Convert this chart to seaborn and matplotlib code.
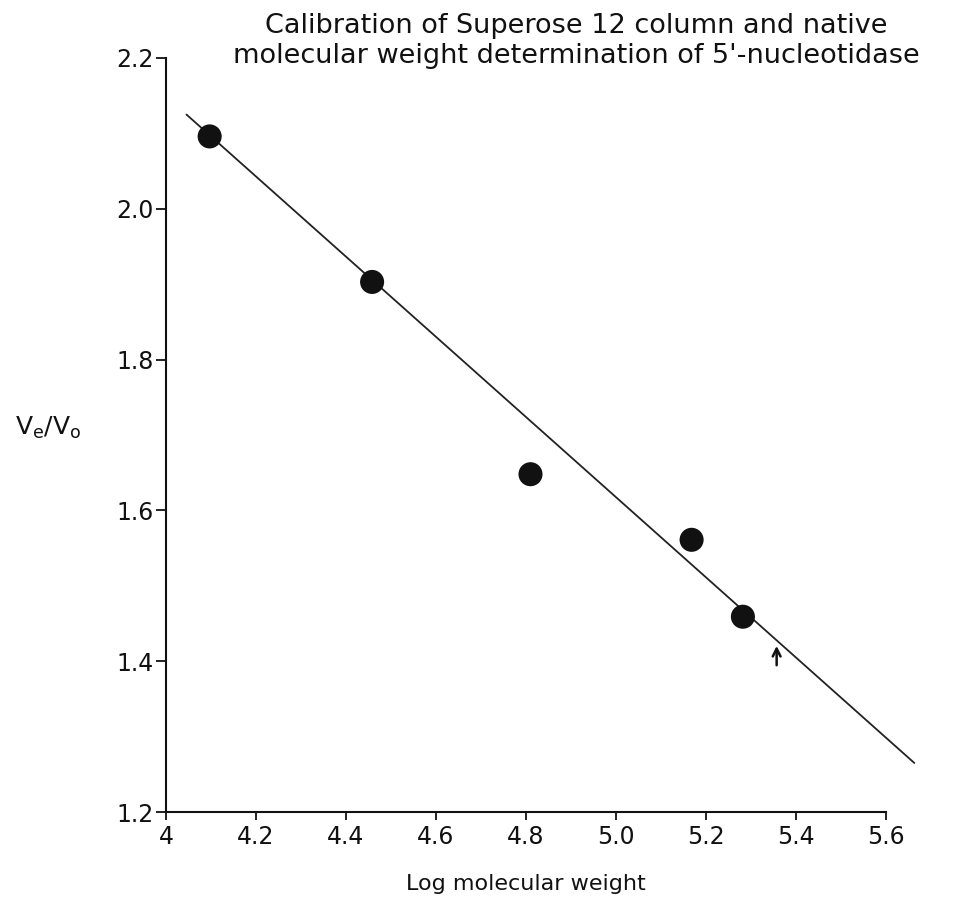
import matplotlib
matplotlib.use("Agg")
import matplotlib.pyplot as plt
import seaborn as sns
import pandas as pd

# Data
log_mw = [4.097, 4.458, 4.810, 5.168, 5.282]
ve_vo = [2.096, 1.903, 1.648, 1.561, 1.459]
fit_x = [4.0455, 5.663]
fit_y = [2.125, 1.265]
arrow_x = 5.357
arrow_y = [1.391, 1.424]
x_ticks = [4.0, 4.2, 4.4, 4.6, 4.8, 5.0, 5.2, 5.4, 5.6]
x_tick_labels = ["4", "4.2", "4.4", "4.6", "4.8", "5.0", "5.2", "5.4", "5.6"]
y_ticks = [1.2, 1.4, 1.6, 1.8, 2.0, 2.2]
y_tick_labels = ["1.2", "1.4", "1.6", "1.8", "2.0", "2.2"]
title_lines = ["Calibration of Superose 12 column and native",
               "molecular weight determination of 5'-nucleotidase"]

sns.set_style("ticks")
plt.rcParams["font.family"] = ["DejaVu Sans"]

W, H = 958, 906
fig = plt.figure(figsize=(W / 100, H / 100), dpi=100)
L, R, T, B = 166, 886, 58, 812
ax = fig.add_axes([L / W, 1 - B / H, (R - L) / W, (B - T) / H])

pts = pd.DataFrame({"x": log_mw, "y": ve_vo})
fit = pd.DataFrame({"x": fit_x, "y": fit_y})

sns.lineplot(data=fit, x="x", y="y", ax=ax, color="#222222", linewidth=1.3)
for ln in ax.get_lines():
    ln.set_clip_on(False)
sns.scatterplot(data=pts, x="x", y="y", ax=ax, color="#111111", s=300,
                edgecolor="none", zorder=3, clip_on=False)

ax.annotate("", xy=(arrow_x, arrow_y[1]), xytext=(arrow_x, arrow_y[0]),
            arrowprops=dict(arrowstyle="->", color="#111111", lw=1.8,
                            mutation_scale=14))

ax.set_xlim(4.0, 5.6)
ax.set_ylim(1.2, 2.2)
ax.set_xticks(x_ticks)
ax.set_xticklabels(x_tick_labels, fontsize=17)
ax.set_yticks(y_ticks)
ax.set_yticklabels(y_tick_labels, fontsize=17)
ax.tick_params(axis="x", direction="out", length=6, width=1.3, pad=3, colors="#111111")
ax.tick_params(axis="y", direction="out", length=7, width=1.3, pad=2, colors="#111111")
for s in ["top", "right"]:
    ax.spines[s].set_visible(False)
for s in ["left", "bottom"]:
    ax.spines[s].set_linewidth(1.5)
    ax.spines[s].set_color("#111111")

ax.set_xlabel("Log molecular weight", fontsize=16, labelpad=18, color="#111111")
ax.set_ylabel(r"V$_\mathregular{e}$/V$_\mathregular{o}$", fontsize=18, rotation=0,
              color="#111111", ha="center", va="center")
ax.yaxis.set_label_coords((48 - L) / (R - L), 1 - (428 - T) / (B - T))

cx = 576 / W
fig.text(cx, 1 - 33 / H, title_lines[0], ha="center", va="baseline",
         fontsize=19.5, color="#111111")
fig.text(cx, 1 - 63 / H, title_lines[1], ha="center", va="baseline",
         fontsize=19.5, color="#111111")

fig.savefig("out.png", dpi=100, facecolor="white")
